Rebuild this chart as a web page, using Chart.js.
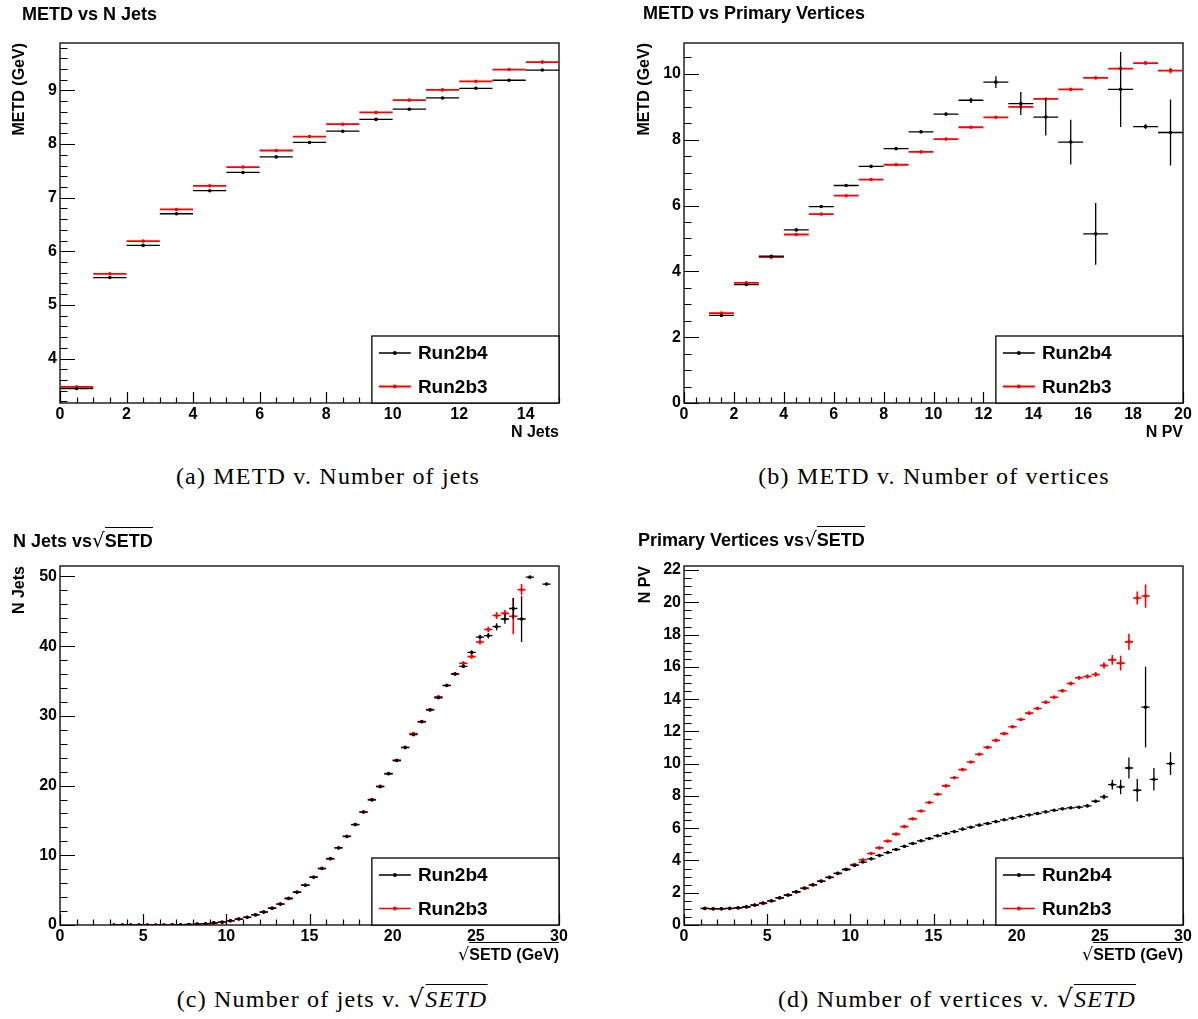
<!DOCTYPE html>
<html>
<head>
<meta charset="utf-8">
<script src="https://cdn.jsdelivr.net/npm/chart.js@4.4.1/dist/chart.umd.min.js"></script>
<style>
  body { margin: 0; background: #fff; width: 1198px; height: 1019px; position: relative; overflow: hidden; font-family: "Liberation Sans", Arial, sans-serif; color: #000; }
  canvas { position: absolute; }
  .ttl { position: absolute; font: bold 18px/18px "Liberation Sans", Arial, sans-serif; white-space: nowrap; }
  .xt { position: absolute; font: bold 16px/16px "Liberation Sans", Arial, sans-serif; white-space: nowrap; transform: translateX(-100%); }
  .yt { position: absolute; font: bold 16px/16px "Liberation Sans", Arial, sans-serif; white-space: nowrap; writing-mode: vertical-rl; transform: rotate(180deg); }
  .rad { font-family: "DejaVu Sans", sans-serif; font-weight: normal; font-size: 1.1em; }
  .ovl { display: inline-block; border-top: 1.5px solid #000; padding-top: 4px; }
  .cap { position: absolute; font: 24px/24px "Liberation Serif", "DejaVu Serif", serif; letter-spacing: 1.2px; white-space: nowrap; transform: translateX(-50%); }
  .crad { font-family: "DejaVu Serif", serif; font-size: 25px; }
  .covl { display: inline-block; border-top: 1.3px solid #000; padding-top: 2px; font-style: italic; }
</style>
</head>
<body>
<canvas id="cA" width="599" height="450" style="left:0;top:0"></canvas>
<canvas id="cB" width="599" height="450" style="left:599px;top:0"></canvas>
<canvas id="cC" width="599" height="450" style="left:0;top:520px"></canvas>
<canvas id="cD" width="599" height="450" style="left:599px;top:520px"></canvas>

<div class="ttl" style="left:22px;top:5px">METD vs N Jets</div>
<div class="ttl" style="left:643px;top:4px">METD vs Primary Vertices</div>
<div class="ttl" style="left:13px;top:527px">N Jets vs<span class="rad">√</span><span class="ovl">SETD</span></div>
<div class="ttl" style="left:638px;top:526px">Primary Vertices vs<span class="rad">√</span><span class="ovl">SETD</span></div>

<div class="yt" style="left:11px;top:43px">METD (GeV)</div>
<div class="yt" style="left:636px;top:43px">METD (GeV)</div>
<div class="yt" style="left:11px;top:566px">N Jets</div>
<div class="yt" style="left:637px;top:566px">N PV</div>

<div class="xt" style="left:559px;top:424px">N Jets</div>
<div class="xt" style="left:1183px;top:424px">N PV</div>
<div class="xt" style="left:559px;top:942px"><span class="rad">√</span><span class="ovl">SETD (GeV)</span></div>
<div class="xt" style="left:1183px;top:942px"><span class="rad">√</span><span class="ovl">SETD (GeV)</span></div>

<div class="cap" style="left:328px;top:464px">(a) METD v. Number of jets</div>
<div class="cap" style="left:934px;top:464px">(b) METD v. Number of vertices</div>
<div class="cap" style="left:332px;top:984px">(c) Number of jets v. <span class="crad">√</span><span class="covl">SETD</span></div>
<div class="cap" style="left:957px;top:984px">(d) Number of vertices v. <span class="crad">√</span><span class="covl">SETD</span></div>

<script>
// (a) METD vs number of jets, one bin per jet multiplicity
const jetCenters = [0.5, 1.5, 2.5, 3.5, 4.5, 5.5, 6.5, 7.5, 8.5, 9.5, 10.5, 11.5, 12.5, 13.5, 14.5];
const metdJets2b4 = [3.44, 5.51, 6.11, 6.70, 7.13, 7.47, 7.76, 8.03, 8.24, 8.46, 8.65, 8.86, 9.04, 9.19, 9.38];
const metdJetsErr2b4 = [0.01, 0.01, 0.01, 0.01, 0.01, 0.01, 0.01, 0.01, 0.02, 0.02, 0.02, 0.02, 0.02, 0.02, 0.02];
const metdJets2b3 = [3.47, 5.58, 6.19, 6.78, 7.22, 7.57, 7.88, 8.14, 8.37, 8.59, 8.82, 9.01, 9.17, 9.39, 9.53];
const metdJetsErr2b3 = [0.01, 0.01, 0.01, 0.01, 0.01, 0.01, 0.01, 0.01, 0.02, 0.02, 0.02, 0.02, 0.02, 0.02, 0.03];

// (b) METD vs number of primary vertices
const pvCenters = [1.5, 2.5, 3.5, 4.5, 5.5, 6.5, 7.5, 8.5, 9.5, 10.5, 11.5, 12.5, 13.5, 14.5, 15.5, 16.5, 17.5, 18.5, 19.5];
const metdPv2b4 = [2.66, 3.60, 4.46, 5.26, 5.97, 6.61, 7.19, 7.73, 8.24, 8.78, 9.20, 9.75, 9.10, 8.69, 7.93, 5.14, 9.53, 8.40, 8.22];
const metdPvErr2b4 = [0.02, 0.02, 0.02, 0.02, 0.02, 0.02, 0.03, 0.03, 0.03, 0.04, 0.08, 0.18, 0.35, 0.56, 0.68, 0.94, 1.14, 0.07, 1.00];
const metdPv2b3 = [2.73, 3.65, 4.43, 5.12, 5.74, 6.30, 6.79, 7.24, 7.63, 8.02, 8.38, 8.68, 9.00, 9.24, 9.53, 9.88, 10.16, 10.33, 10.10];
const metdPvErr2b3 = [0.02, 0.02, 0.02, 0.02, 0.02, 0.02, 0.02, 0.02, 0.02, 0.02, 0.02, 0.03, 0.05, 0.03, 0.03, 0.03, 0.05, 0.06, 0.08];

// (c) N jets vs sqrt(SETD), 0.5 GeV^1/2 bins
const setdJetX2b4 = [3.25, 3.75, 4.25, 4.75, 5.25, 5.75, 6.25, 6.75, 7.25, 7.75, 8.25, 8.75, 9.25, 9.75, 10.25, 10.75, 11.25, 11.75, 12.25, 12.75,
  13.25, 13.75, 14.25, 14.75, 15.25, 15.75, 16.25, 16.75, 17.25, 17.75, 18.25, 18.75, 19.25, 19.75, 20.25, 20.75, 21.25, 21.75, 22.25, 22.75,
  23.25, 23.75, 24.25, 24.75, 25.25, 25.75, 26.25, 26.75, 27.25, 27.75, 28.25, 29.25];
const setdJet2b4 = [0.0, 0.0, 0.0, 0.0, 0.0, 0.01, 0.01, 0.02, 0.04, 0.07, 0.12, 0.19, 0.30, 0.40, 0.60, 0.85, 1.10, 1.45, 1.85, 2.40,
  3.00, 3.80, 4.70, 5.70, 6.85, 8.10, 9.50, 11.05, 12.70, 14.40, 16.20, 17.95, 19.85, 21.70, 23.60, 25.45, 27.30, 29.15, 30.85, 32.60,
  34.35, 36.00, 37.10, 39.10, 41.30, 41.50, 42.80, 43.90, 45.40, 43.90, 49.90, 48.90];
const setdJetErr2b4 = [0.01, 0.01, 0.01, 0.01, 0.01, 0.01, 0.01, 0.01, 0.01, 0.01, 0.01, 0.02, 0.02, 0.02, 0.02, 0.03, 0.03, 0.03, 0.04, 0.04,
  0.05, 0.05, 0.05, 0.06, 0.06, 0.07, 0.07, 0.08, 0.08, 0.09, 0.09, 0.10, 0.10, 0.11, 0.12, 0.12, 0.13, 0.14, 0.15, 0.16,
  0.18, 0.20, 0.25, 0.30, 0.35, 0.40, 0.50, 0.70, 1.50, 3.30, 0.10, 0.10];
const setdJetX2b3 = [3.25, 3.75, 4.25, 4.75, 5.25, 5.75, 6.25, 6.75, 7.25, 7.75, 8.25, 8.75, 9.25, 9.75, 10.25, 10.75, 11.25, 11.75, 12.25, 12.75,
  13.25, 13.75, 14.25, 14.75, 15.25, 15.75, 16.25, 16.75, 17.25, 17.75, 18.25, 18.75, 19.25, 19.75, 20.25, 20.75, 21.25, 21.75, 22.25, 22.75,
  23.25, 23.75, 24.25, 24.75, 25.25, 25.75, 26.25, 26.75, 27.25, 27.75];
const setdJet2b3 = [0.0, 0.0, 0.0, 0.0, 0.0, 0.01, 0.01, 0.02, 0.04, 0.07, 0.12, 0.19, 0.30, 0.42, 0.62, 0.86, 1.12, 1.47, 1.88, 2.42,
  3.02, 3.82, 4.72, 5.72, 6.88, 8.12, 9.52, 11.08, 12.72, 14.42, 16.22, 17.98, 19.88, 21.72, 23.62, 25.50, 27.45, 29.18, 30.90, 32.75,
  34.40, 36.05, 37.55, 38.50, 40.60, 42.40, 44.40, 44.70, 44.30, 48.10];
const setdJetErr2b3 = [0.01, 0.01, 0.01, 0.01, 0.01, 0.01, 0.01, 0.01, 0.01, 0.01, 0.01, 0.02, 0.02, 0.02, 0.02, 0.03, 0.03, 0.03, 0.04, 0.04,
  0.05, 0.05, 0.05, 0.06, 0.06, 0.07, 0.07, 0.08, 0.08, 0.09, 0.09, 0.10, 0.10, 0.11, 0.12, 0.12, 0.13, 0.14, 0.15, 0.16,
  0.18, 0.20, 0.25, 0.30, 0.35, 0.40, 0.50, 0.50, 2.60, 0.80];

// (d) N PV vs sqrt(SETD)
const setdPvX2b4 = [1.25, 1.75, 2.25, 2.75, 3.25, 3.75, 4.25, 4.75, 5.25, 5.75, 6.25, 6.75, 7.25, 7.75, 8.25, 8.75, 9.25, 9.75, 10.25, 10.75,
  11.25, 11.75, 12.25, 12.75, 13.25, 13.75, 14.25, 14.75, 15.25, 15.75, 16.25, 16.75, 17.25, 17.75, 18.25, 18.75, 19.25, 19.75, 20.25, 20.75,
  21.25, 21.75, 22.25, 22.75, 23.25, 23.75, 24.25, 24.75, 25.25, 25.75, 26.25, 26.75, 27.25, 27.75, 28.25, 29.25];
const setdPv2b4 = [1.03, 1.01, 1.01, 1.03, 1.07, 1.13, 1.24, 1.36, 1.50, 1.69, 1.86, 2.06, 2.29, 2.49, 2.72, 2.95, 3.20, 3.44, 3.69, 3.90,
  4.10, 4.31, 4.49, 4.68, 4.87, 5.05, 5.22, 5.36, 5.53, 5.67, 5.79, 5.94, 6.06, 6.19, 6.29, 6.41, 6.52, 6.62, 6.72, 6.82,
  6.91, 7.01, 7.11, 7.20, 7.26, 7.30, 7.38, 7.67, 7.94, 8.70, 8.56, 9.73, 8.35, 13.50, 9.03, 10.00];
const setdPvErr2b4 = [0.02, 0.02, 0.02, 0.02, 0.02, 0.02, 0.02, 0.02, 0.02, 0.02, 0.02, 0.02, 0.02, 0.02, 0.02, 0.02, 0.02, 0.02, 0.02, 0.02,
  0.02, 0.02, 0.02, 0.02, 0.02, 0.02, 0.02, 0.03, 0.03, 0.03, 0.03, 0.03, 0.03, 0.03, 0.03, 0.03, 0.04, 0.04, 0.04, 0.04,
  0.04, 0.04, 0.05, 0.05, 0.05, 0.06, 0.07, 0.10, 0.15, 0.30, 0.45, 0.65, 0.70, 2.50, 0.70, 0.70];
const setdPvX2b3 = [1.25, 1.75, 2.25, 2.75, 3.25, 3.75, 4.25, 4.75, 5.25, 5.75, 6.25, 6.75, 7.25, 7.75, 8.25, 8.75, 9.25, 9.75, 10.25, 10.75,
  11.25, 11.75, 12.25, 12.75, 13.25, 13.75, 14.25, 14.75, 15.25, 15.75, 16.25, 16.75, 17.25, 17.75, 18.25, 18.75, 19.25, 19.75, 20.25, 20.75,
  21.25, 21.75, 22.25, 22.75, 23.25, 23.75, 24.25, 24.75, 25.25, 25.75, 26.25, 26.75, 27.25, 27.75];
const setdPv2b3 = [1.02, 1.00, 1.00, 1.02, 1.05, 1.11, 1.22, 1.34, 1.49, 1.67, 1.84, 2.04, 2.27, 2.48, 2.71, 2.95, 3.20, 3.45, 3.75, 4.04,
  4.43, 4.78, 5.20, 5.63, 6.10, 6.58, 7.07, 7.59, 8.10, 8.62, 9.13, 9.63, 10.10, 10.58, 11.01, 11.44, 11.86, 12.29, 12.74, 13.13,
  13.42, 13.81, 14.12, 14.52, 14.97, 15.32, 15.40, 15.53, 16.08, 16.43, 16.23, 17.55, 20.27, 20.39];
const setdPvErr2b3 = [0.02, 0.02, 0.02, 0.02, 0.02, 0.02, 0.02, 0.02, 0.02, 0.02, 0.02, 0.02, 0.02, 0.02, 0.02, 0.02, 0.02, 0.02, 0.03, 0.03,
  0.03, 0.03, 0.04, 0.04, 0.04, 0.05, 0.05, 0.05, 0.06, 0.06, 0.06, 0.07, 0.07, 0.07, 0.08, 0.08, 0.08, 0.09, 0.09, 0.10,
  0.10, 0.10, 0.11, 0.11, 0.12, 0.12, 0.13, 0.15, 0.20, 0.30, 0.45, 0.50, 0.40, 0.72];

// tick labels
const jetTicks = [0, 2, 4, 6, 8, 10, 12, 14];
const metdTicksA = [4, 5, 6, 7, 8, 9];
const pvTicks = [0, 2, 4, 6, 8, 10, 12, 14, 16, 18, 20];
const metdTicksB = [0, 2, 4, 6, 8, 10];
const setdTicks = [0, 5, 10, 15, 20, 25, 30];
const nJetTicks = [0, 10, 20, 30, 40, 50];
const nPvTicks = [0, 2, 4, 6, 8, 10, 12, 14, 16, 18, 20, 22];

const BLACK = '#000000';
const RED = '#ff0000';

// frame + inward ROOT style ticks
const rootFrame = {
  id: 'rootFrame',
  beforeDatasetsDraw(chart, args, opts) {
    const { ctx, chartArea: a, scales: { x, y } } = chart;
    const isMajor = (v, m) => Math.abs(v / m - Math.round(v / m)) < 1e-6;
    ctx.save();
    ctx.strokeStyle = '#000';
    ctx.lineWidth = 1.2;
    ctx.beginPath();
    for (let n = Math.ceil(x.min / opts.xMinor - 1e-9); n * opts.xMinor <= x.max + 1e-9; n++) {
      const v = n * opts.xMinor;
      const px = Math.round(x.getPixelForValue(v)) + 0.5;
      ctx.moveTo(px, a.bottom);
      ctx.lineTo(px, a.bottom - (isMajor(v, opts.xMajor) ? 11 : 5.5));
    }
    for (let n = Math.ceil(y.min / opts.yMinor - 1e-9); n * opts.yMinor <= y.max + 1e-9; n++) {
      const v = n * opts.yMinor;
      const py = Math.round(y.getPixelForValue(v)) + 0.5;
      ctx.moveTo(a.left, py);
      ctx.lineTo(a.left + (isMajor(v, opts.yMajor) ? 15 : 7.5), py);
    }
    ctx.stroke();
    ctx.lineWidth = 1.3;
    ctx.strokeRect(a.left, a.top, a.width, a.height);
    ctx.restore();
  }
};

// horizontal bin width + vertical stat error for each point
const errorBars = {
  id: 'errorBars',
  beforeDatasetDraw(chart, args) {
    const ds = chart.data.datasets[args.index];
    const { ctx, chartArea: a, scales: { x, y } } = chart;
    ctx.save();
    ctx.beginPath();
    ctx.rect(a.left, a.top, a.width, a.height);
    ctx.clip();
    ctx.strokeStyle = ds.errColor;
    ctx.lineWidth = ds.errWidth;
    ctx.beginPath();
    ds.data.forEach((p, i) => {
      const px = x.getPixelForValue(p.x);
      const py = y.getPixelForValue(p.y);
      ctx.moveTo(x.getPixelForValue(p.x - ds.xHalf), py);
      ctx.lineTo(x.getPixelForValue(p.x + ds.xHalf), py);
      const e = ds.yErr[i];
      if (e > 0) {
        ctx.moveTo(px, y.getPixelForValue(p.y - e));
        ctx.lineTo(px, y.getPixelForValue(p.y + e));
      }
    });
    ctx.stroke();
    ctx.restore();
  }
};

// boxed legend in the lower right corner of the frame
const rootLegend = {
  id: 'rootLegend',
  afterDatasetsDraw(chart) {
    const { ctx, chartArea: a } = chart;
    const w = a.width * 0.375, h = 67;
    const x0 = a.right - w, y0 = a.bottom - h;
    ctx.save();
    ctx.fillStyle = '#fff';
    ctx.fillRect(x0, y0, w, h);
    ctx.strokeStyle = '#000';
    ctx.lineWidth = 1.3;
    ctx.strokeRect(x0, y0, w, h);
    chart.data.datasets.forEach((ds, i) => {
      const yy = y0 + 17 + i * 33.5;
      ctx.strokeStyle = ds.errColor;
      ctx.lineWidth = ds.errWidth;
      ctx.beginPath();
      ctx.moveTo(x0 + 7, yy);
      ctx.lineTo(x0 + 39, yy);
      ctx.stroke();
      ctx.fillStyle = ds.errColor;
      ctx.beginPath();
      ctx.arc(x0 + 23, yy, 2, 0, Math.PI * 2);
      ctx.fill();
      ctx.fillStyle = '#000';
      ctx.font = 'bold 19px "Liberation Sans", Arial, sans-serif';
      ctx.textBaseline = 'middle';
      ctx.fillText(ds.label, x0 + 46, yy + 1);
    });
    ctx.restore();
  }
};

const tickFont = { family: '"Liberation Sans", Arial, sans-serif', size: 16, weight: 'bold' };

function series(label, xs, ys, errs, color, width, half) {
  return {
    label: label,
    data: xs.map((v, i) => ({ x: v, y: ys[i] })),
    yErr: errs,
    xHalf: half,
    errColor: color,
    errWidth: width,
    backgroundColor: color,
    borderColor: color,
    pointRadius: 1.8,
    pointHoverRadius: 1.8,
    pointBorderWidth: 0
  };
}

function makePanel(id, p) {
  return new Chart(document.getElementById(id), {
    type: 'scatter',
    data: { datasets: p.datasets },
    options: {
      responsive: false,
      animation: false,
      events: [],
      layout: { padding: { left: 0, top: p.top, right: p.right, bottom: 0 } },
      plugins: {
        legend: { display: false },
        tooltip: { enabled: false },
        rootFrame: { xMinor: p.xMinor, xMajor: p.xMajor, yMinor: p.yMinor, yMajor: p.yMajor }
      },
      scales: {
        x: {
          type: 'linear', min: p.xMin, max: p.xMax,
          afterFit: s => { s.height = p.xh; },
          afterBuildTicks: s => { s.ticks = p.xTicks.map(v => ({ value: v })); },
          grid: { display: false, drawTicks: false },
          border: { display: false },
          ticks: { font: tickFont, color: '#000', padding: 2, maxRotation: 0, autoSkip: false, callback: v => String(v) }
        },
        y: {
          type: 'linear', min: p.yMin, max: p.yMax,
          afterFit: s => { s.width = p.yw; },
          afterBuildTicks: s => { s.ticks = p.yTicks.map(v => ({ value: v })); },
          grid: { display: false, drawTicks: false },
          border: { display: false },
          ticks: { font: tickFont, color: '#000', padding: 3, autoSkip: false, callback: v => String(v) }
        }
      }
    },
    plugins: [rootFrame, errorBars, rootLegend]
  });
}

makePanel('cA', {
  datasets: [
    series('Run2b4', jetCenters, metdJets2b4, metdJetsErr2b4, BLACK, 1.3, 0.5),
    series('Run2b3', jetCenters, metdJets2b3, metdJetsErr2b3, RED, 1.8, 0.5)
  ],
  xMin: 0, xMax: 15, yMin: 3.17, yMax: 9.885,
  xTicks: jetTicks, yTicks: metdTicksA,
  xMinor: 0.5, xMajor: 2, yMinor: 0.2, yMajor: 1,
  top: 43, right: 40, xh: 47, yw: 60
});

makePanel('cB', {
  datasets: [
    series('Run2b4', pvCenters, metdPv2b4, metdPvErr2b4, BLACK, 1.3, 0.5),
    series('Run2b3', pvCenters, metdPv2b3, metdPvErr2b3, RED, 1.8, 0.5)
  ],
  xMin: 0, xMax: 20, yMin: 0, yMax: 10.94,
  xTicks: pvTicks, yTicks: metdTicksB,
  xMinor: 0.5, xMajor: 2, yMinor: 0.5, yMajor: 2,
  top: 43, right: 15, xh: 47, yw: 85
});

makePanel('cC', {
  datasets: [
    series('Run2b4', setdJetX2b4, setdJet2b4, setdJetErr2b4, BLACK, 1.3, 0.25),
    series('Run2b3', setdJetX2b3, setdJet2b3, setdJetErr2b3, RED, 1.6, 0.25)
  ],
  xMin: 0, xMax: 30, yMin: 0, yMax: 51.5,
  xTicks: setdTicks, yTicks: nJetTicks,
  xMinor: 1, xMajor: 5, yMinor: 2, yMajor: 10,
  top: 46, right: 40, xh: 45, yw: 60
});

makePanel('cD', {
  datasets: [
    series('Run2b4', setdPvX2b4, setdPv2b4, setdPvErr2b4, BLACK, 1.3, 0.25),
    series('Run2b3', setdPvX2b3, setdPv2b3, setdPvErr2b3, RED, 1.6, 0.25)
  ],
  xMin: 0, xMax: 30, yMin: 0, yMax: 22.25,
  xTicks: setdTicks, yTicks: nPvTicks,
  xMinor: 1, xMajor: 5, yMinor: 0.5, yMajor: 2,
  top: 46, right: 15, xh: 45, yw: 85
});
</script>
</body>
</html>
